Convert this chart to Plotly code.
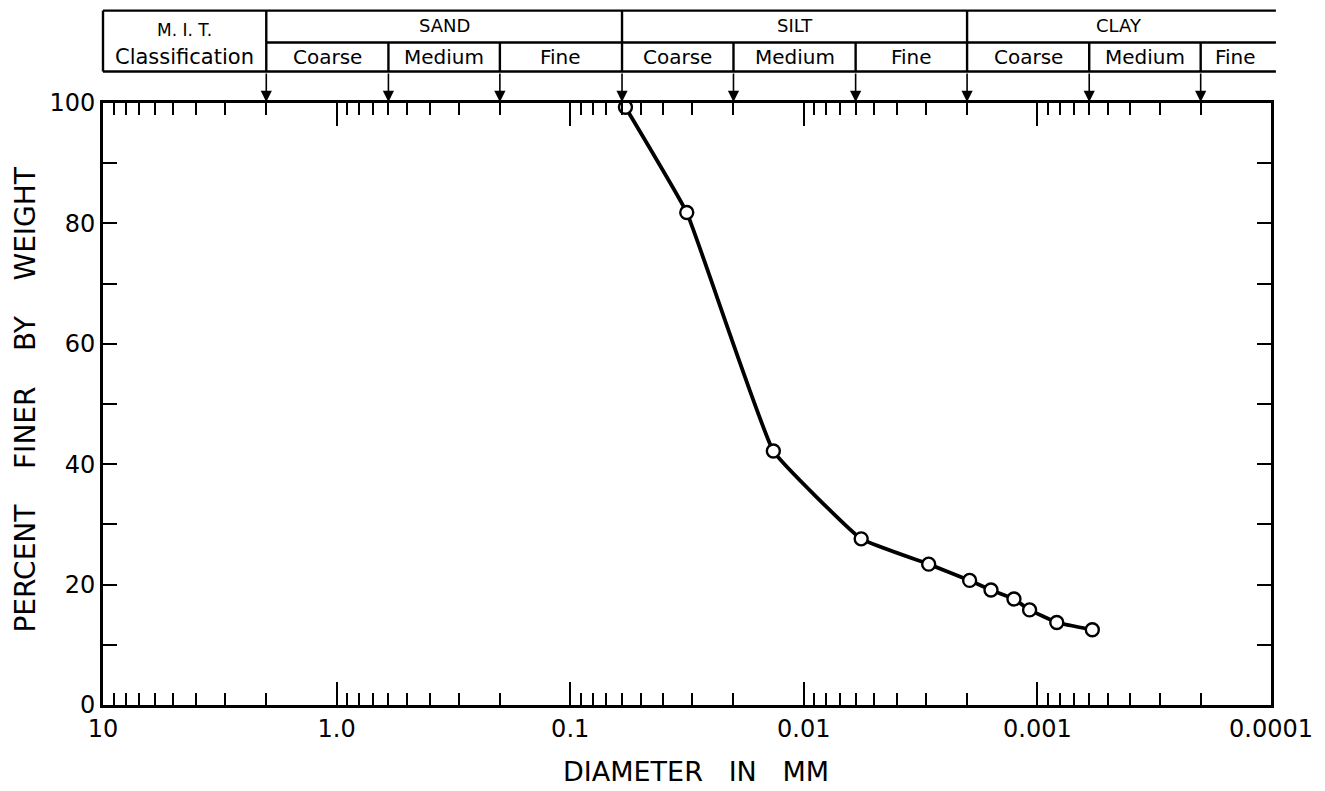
import math
import plotly.graph_objects as go

# Grain-size distribution (hydrometer / sieve analysis)
diameter_mm = [0.058, 0.0317, 0.0135, 0.00568, 0.00292, 0.00195,
               0.00158, 0.00126, 0.00108, 0.000826, 0.000582]
percent_finer = [99.3, 81.8, 42.2, 27.6, 23.4, 20.7,
                 19.1, 17.6, 15.8, 13.7, 12.5]

# M.I.T. classification boundaries (mm)
major_bounds = [2.0, 0.06, 0.002]
minor_bounds = [0.6, 0.2, 0.02, 0.006, 0.0006, 0.0002]
groups = ["SAND", "SILT", "CLAY"]
sub_labels = ["Coarse", "Medium", "Fine"]

x_tickvals = [10, 1, 0.1, 0.01, 0.001, 0.0001]
x_ticktext = ["10", "1.0", "0.1", "0.01", "0.001", "0.0001"]
y_tickvals = [0, 10, 20, 30, 40, 50, 60, 70, 80, 90, 100]
y_ticktext = ["0", "", "20", "", "40", "", "60", "", "80", "", "100"]

X_RANGE = [1, -4]          # log10 range, reversed (10 mm -> 0.0001 mm)
FONT = "DejaVu Sans"
INK = "black"

fig = go.Figure()
fig.add_trace(go.Scatter(
    x=diameter_mm, y=percent_finer, mode="lines+markers",
    line=dict(color=INK, width=3.8, shape="spline", smoothing=0.3),
    marker=dict(symbol="circle", size=13, color="white",
                line=dict(color=INK, width=2.4)),
    showlegend=False, hoverinfo="x+y",
))


def xpaper(d):
    """Paper-space x position of a diameter on the reversed log axis."""
    return (X_RANGE[0] - math.log10(d)) / (X_RANGE[0] - X_RANGE[1])


# Header table rows (paper y)
Y_TOP, Y_MID, Y_BOT = 1.1535, 1.1004, 1.0523
X_END = 1.0042
line_style = dict(color=INK, width=2.4)
shapes = [
    dict(type="line", xref="paper", yref="paper", x0=0, x1=X_END, y0=Y_TOP, y1=Y_TOP, line=line_style),
    dict(type="line", xref="paper", yref="paper", x0=xpaper(major_bounds[0]), x1=X_END, y0=Y_MID, y1=Y_MID, line=line_style),
    dict(type="line", xref="paper", yref="paper", x0=0, x1=X_END, y0=Y_BOT, y1=Y_BOT, line=line_style),
    dict(type="line", xref="paper", yref="paper", x0=0, x1=0, y0=Y_BOT, y1=Y_TOP, line=line_style),
]
for b in major_bounds:
    shapes.append(dict(type="line", xref="paper", yref="paper", x0=xpaper(b), x1=xpaper(b),
                       y0=Y_BOT, y1=Y_TOP, line=line_style))
for b in minor_bounds:
    shapes.append(dict(type="line", xref="paper", yref="paper", x0=xpaper(b), x1=xpaper(b),
                       y0=Y_BOT, y1=Y_MID, line=line_style))

annotations = []
# Arrows from the table down to the top axis at each boundary
for b in major_bounds + minor_bounds:
    annotations.append(dict(
        x=xpaper(b), y=1.0, xref="paper", yref="paper", text="",
        showarrow=True, ax=0, ay=-31, arrowhead=2, arrowsize=1.4,
        arrowwidth=1.6, arrowcolor=INK, standoff=1,
    ))


def label(x, y, text, size, **kw):
    annotations.append(dict(x=x, y=y, xref="paper", yref="paper", text=text,
                            xanchor="center", yanchor="middle", showarrow=False,
                            font=dict(family=FONT, size=size, color=INK), **kw))


# Group and sub-group labels
edges = major_bounds + [10 ** X_RANGE[1]]
for i, g in enumerate(groups):
    lo, hi = edges[i], edges[i + 1]
    label((xpaper(lo) + xpaper(hi)) / 2, 1.129, g, 18)
    inner = [lo] + minor_bounds[2 * i: 2 * i + 2] + [hi]
    for j, s in enumerate(sub_labels):
        label((xpaper(inner[j]) + xpaper(inner[j + 1])) / 2, 1.0765, s, 20)

xc_mit = (0 + xpaper(major_bounds[0])) / 2
label(xc_mit, 1.122, "M. I. T.", 17)
label(xc_mit, 1.0765, "Classification", 21)

# Axis titles
nb = "\u00a0"
label(0.508, -0.111, f"DIAMETER{nb*3}IN{nb*3}MM", 27)
label(-0.0665, 0.508, f"PERCENT{nb*4}FINER{nb*4}BY{nb*4}WEIGHT", 28, textangle=-90)

fig.update_layout(
    width=1325, height=791,
    margin=dict(l=102.5, r=43, t=102.5, b=86),
    paper_bgcolor="white", plot_bgcolor="white",
    shapes=shapes, annotations=annotations,
    xaxis=dict(
        type="log", range=X_RANGE, autorange=False,
        tickmode="array", tickvals=x_tickvals, ticktext=x_ticktext,
        ticks="inside", ticklen=23, tickwidth=2, tickcolor=INK,
        minor=dict(tickmode="array",
                   tickvals=[k * 10 ** e for e in range(-4, 1) for k in range(2, 10)],
                   ticks="inside", ticklen=12, tickwidth=2, tickcolor=INK, showgrid=False),
        showline=True, linecolor=INK, linewidth=2.8, mirror="ticks",
        showgrid=False, zeroline=False,
        tickfont=dict(family=FONT, size=24, color=INK),
    ),
    yaxis=dict(
        range=[0, 100], autorange=False,
        tickmode="array", tickvals=y_tickvals, ticktext=y_ticktext,
        ticks="inside", ticklen=14, tickwidth=2, tickcolor=INK,
        showline=True, linecolor=INK, linewidth=2.8, mirror="ticks",
        showgrid=False, zeroline=False,
        tickfont=dict(family=FONT, size=24, color=INK),
    ),
)

fig.write_html("out.html")
